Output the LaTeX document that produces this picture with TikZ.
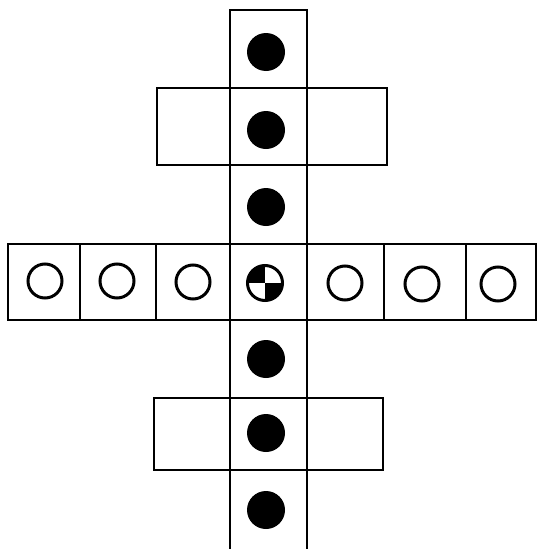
\documentclass[tikz,border=0pt]{standalone}
\usetikzlibrary{positioning}
\tikzstyle{cell}=[draw=black, line width=2.2pt, inner sep=0pt, outer sep=0pt]
\tikzstyle{full}=[fill=black, shape=circle, inner sep=0pt, minimum size=38pt]
\tikzstyle{empty}=[draw=black, line width=3pt, shape=circle, inner sep=0pt,
        minimum size=34pt]

\begin{document}
\begin{tikzpicture}[x=1pt, y=-1pt]
        \useasboundingbox (0,0) rectangle (540,549);

        % wide boxes behind the column
        \node[cell, minimum width=230pt, minimum height=77pt] (top) at (272,126.5) {};
        \node[cell, minimum width=229pt, minimum height=72pt] (bot) at (268.5,434) {};

        % column
        \node[cell, minimum width=77pt, minimum height=78pt] (c1) at (268.5,49) {};
        \node[cell, minimum width=77pt, minimum height=77pt] (c2) at (268.5,126.5) {};
        \node[cell, minimum width=77pt, minimum height=79pt] (c3) at (268.5,204.5) {};
        \node[cell, minimum width=77pt, minimum height=76pt] (c4) at (268.5,282) {};
        \node[cell, minimum width=77pt, minimum height=78pt] (c5) at (268.5,359) {};
        \node[cell, minimum width=77pt, minimum height=72pt] (c6) at (268.5,434) {};
        \node[cell, minimum width=77pt, minimum height=80pt] (c7) at (268.5,510) {};

        % row
        \node[cell, minimum width=72pt, minimum height=76pt] (r1) at (44,282) {};
        \node[cell, minimum width=76pt, minimum height=76pt] (r2) at (118,282) {};
        \node[cell, minimum width=74pt, minimum height=76pt] (r3) at (193,282) {};
        \node[cell, minimum width=77pt, minimum height=76pt] (r5) at (345.5,282) {};
        \node[cell, minimum width=82pt, minimum height=76pt] (r6) at (425,282) {};
        \node[cell, minimum width=70pt, minimum height=76pt] (r7) at (501,282) {};

        % filled dots
        \node[full] (d1) at (266,52) {};
        \node[full] (d2) at (266,130) {};
        \node[full] (d3) at (266,207) {};
        \node[full] (d5) at (266,359) {};
        \node[full] (d6) at (266,433) {};
        \node[full] (d7) at (266,510) {};

        % open dots
        \node[empty] (o1) at (45,281) {};
        \node[empty] (o2) at (117,281) {};
        \node[empty] (o3) at (193,282) {};
        \node[empty] (o5) at (345,283) {};
        \node[empty] (o6) at (422,284) {};
        \node[empty] (o7) at (498,284) {};

        % quartered dot
        \node[empty, minimum size=35pt] (q) at (265,283) {};
        \begin{scope}
            \clip (q.center) circle[radius=17.5pt];
            \fill (q.center) rectangle (q.west |- q.north);
            \fill (q.center) rectangle (q.east |- q.south);
        \end{scope}

    \end{tikzpicture}
\end{document}
